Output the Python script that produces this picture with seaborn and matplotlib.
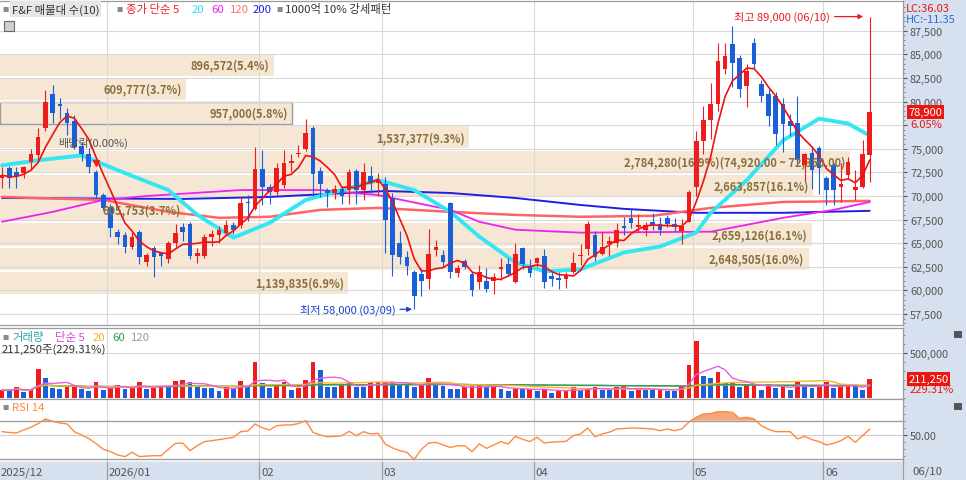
import matplotlib
matplotlib.use("Agg")
import matplotlib.pyplot as plt
from matplotlib.patches import Rectangle
import numpy as np
import pandas as pd
import seaborn as sns

sns.set_style("white")
plt.rcParams['font.family'] = ['Noto Sans CJK KR', 'DejaVu Sans']
plt.rcParams['axes.unicode_minus'] = False

# ---- daily candles (2025/12 ~ 2026/06/10) ----
opens = [71900, 72950, 72500, 72400, 73650, 74300, 77250, 80800, 79700, 78800,
         77950, 75250, 74500, 72500, 70100, 68850, 66200, 65900, 64550, 66200,
         63050, 64450, 64000, 63300, 65050, 66750, 67050, 63600, 63600, 65700,
         65900, 66100, 66950, 66950, 69350, 68650, 72850, 70950, 70400, 71150,
         73450, 74400, 74950, 77250, 72600, 70650, 70300, 70750, 70650, 72600,
         70650, 72100, 71350, 71300, 69800, 65050, 63500, 61900, 61700, 61200,
         64300, 63800, 69250, 61800, 63150, 61700, 60850, 60950, 60950, 62250,
         62850, 60850, 64450, 62550, 62950, 63600, 61500, 61250, 61200, 62000,
         63600, 64350, 65900, 63900, 64950, 65050, 66850, 67700, 66750, 66350,
         67250, 67050, 67700, 67050, 66250, 67300, 70950, 75850, 78000, 79750,
         83450, 86050, 84600, 81650, 86150, 81850, 80800, 80600, 79750, 77950,
         77750, 73300, 74600, 75050, 71900, 73250, 70950, 72200, 70650, 70950,
         74300]
highs = [73050, 73150, 73100, 73200, 74950, 77250, 81200, 81800, 80400, 79350,
         78600, 75700, 75100, 72750, 70300, 69200, 66550, 66200, 66200, 66400,
         64000, 64700, 64100, 65250, 67000, 67100, 67300, 64500, 66000, 66350,
         66800, 67500, 67300, 69850, 70100, 75150, 74900, 71250, 73450, 74900,
         74500, 75400, 78200, 77450, 73100, 70850, 71200, 71000, 72850, 72850,
         73450, 73150, 72450, 72000, 70300, 66300, 64200, 62200, 62400, 66500,
         65300, 64300, 69350, 62700, 63300, 61900, 62650, 62400, 61800, 63400,
         63400, 65000, 64600, 63300, 63500, 64400, 62000, 61900, 61900, 64050,
         64900, 67400, 66250, 66200, 65800, 67100, 67800, 68600, 68100, 67200,
         68150, 67800, 68000, 67650, 67600, 70600, 76900, 79500, 82000, 86200,
         86200, 87950, 84900, 84000, 86700, 82300, 81300, 81000, 80350, 78650,
         80550, 74600, 75150, 75250, 72100, 73450, 73450, 74100, 72750, 75950,
         89000]
lows = [70850, 70850, 70850, 71900, 72850, 73700, 76900, 77700, 78200, 76500,
        74950, 73700, 72400, 69800, 68500, 65700, 64950, 64000, 64350, 62850,
        62600, 61400, 62600, 62950, 64550, 65200, 63300, 62900, 63400, 64750,
        65050, 65750, 65950, 66600, 67400, 68500, 69000, 69200, 70150, 70850,
        72500, 74100, 74800, 70000, 69900, 68850, 69700, 69150, 69150, 69150,
        69550, 70300, 69950, 64000, 61500, 62850, 61600, 58000, 59400, 60200,
        63600, 62500, 61300, 61400, 62300, 59400, 60200, 59800, 59600, 61100,
        61500, 60750, 62300, 61400, 62500, 60250, 60500, 60200, 60300, 61850,
        62700, 63800, 63100, 63800, 63650, 64600, 65900, 66600, 66200, 65800,
        66400, 65900, 66700, 66300, 64950, 67250, 70000, 74500, 76000, 79000,
        82900, 81500, 80500, 79400, 83500, 80000, 77400, 75400, 74650, 76400,
        73450, 71500, 70700, 70200, 69050, 69050, 69350, 71750, 69550, 70900,
        71450]
closes = [72200, 71900, 72100, 73050, 74400, 76300, 79950, 78800, 79550, 77750,
          75150, 74500, 73050, 70100, 68750, 66650, 65700, 64550, 65700, 63500,
          63700, 63500, 63600, 65050, 66100, 66200, 63600, 64000, 65700, 66000,
          66450, 66950, 66450, 69250, 69250, 72850, 70950, 70400, 72950, 73450,
          73700, 74600, 76700, 72300, 71250, 70300, 70750, 70000, 72500, 70650,
          72500, 71450, 71700, 67500, 63800, 63500, 62550, 59400, 61050, 63900,
          64650, 63050, 61900, 62350, 62450, 60000, 61900, 60150, 61400, 62450,
          61700, 63900, 62750, 61800, 63400, 60850, 61200, 61150, 61500, 62950,
          63750, 67050, 63500, 64550, 65250, 66450, 66650, 67150, 66950, 66950,
          66950, 66450, 67050, 66750, 66850, 70400, 75850, 78000, 79750, 84300,
          84800, 84050, 81350, 83250, 83950, 80600, 78500, 76600, 77650, 77450,
          73800, 74400, 72750, 72950, 70650, 70650, 71250, 73550, 70950, 74400,
          78900]
volumes = [89000, 81000, 126000, 70000, 89000, 322000, 218000, 107000, 105000, 118000,
           148000, 100000, 81000, 174000, 92000, 107000, 148000, 100000, 118000, 174000,
           100000, 115000, 137000, 126000, 189000, 196000, 174000, 118000, 111000, 107000,
           81000, 118000, 107000, 192000, 118000, 403000, 163000, 111000, 144000, 174000,
           89000, 107000, 200000, 396000, 311000, 126000, 124000, 144000, 166000, 126000,
           118000, 174000, 176000, 178000, 174000, 155000, 152000, 118000, 144000, 222000,
           155000, 137000, 100000, 98000, 126000, 137000, 144000, 118000, 130000, 100000,
           81000, 107000, 100000, 104000, 81000, 100000, 56000, 81000, 83000, 118000,
           92000, 107000, 118000, 92000, 90000, 118000, 137000, 81000, 100000, 92000,
           90000, 100000, 81000, 80000, 137000, 370000, 636000, 248000, 222000, 292000,
           166000, 181000, 118000, 155000, 157000, 92000, 155000, 111000, 137000, 92000,
           174000, 137000, 107000, 137000, 174000, 107000, 118000, 155000, 130000, 92125,
           211250]
rsi14 = [54.6, 53.5, 52.8, 57, 60.7, 66, 72.4, 69, 66.8, 65.4,
         54.6, 50, 45, 38, 30, 26.7, 22, 19.7, 25.8, 19.7,
         20.5, 21, 21, 30, 38.3, 38.7, 28, 35, 40.7, 42,
         43.5, 45, 46.7, 54.6, 55.6, 65.4, 60, 57, 63, 64,
         64, 66, 70, 53.7, 50, 47.6, 48, 49, 55.1, 49,
         54.6, 51.4, 52.3, 37.4, 32, 28, 25.8, 15.5, 30, 38.7,
         39.7, 36, 32.6, 34.9, 34.9, 26.7, 37.4, 31.3, 36, 40.7,
         37.4, 48.1, 44, 40.7, 46.7, 38.7, 40, 40.5, 41.1, 49,
         51.4, 59.8, 47.6, 51.4, 54, 58.4, 59, 59.8, 59.5, 59,
         58.4, 56, 58.4, 56, 58.4, 68, 74.7, 79.4, 80, 82.6,
         82.5, 81.7, 73.3, 74.7, 72.4, 63, 58, 54.6, 54.6, 54.6,
         44.4, 48.1, 43.5, 40.7, 36, 38.3, 42, 48.1, 39.7, 49,
         58.4]

month_labels = ['2025/12', '2026/01', '02', '03', '04', '05', '06']
month_start = [0, 15, 36, 53, 74, 96, 114]

# longer moving averages at a few bars
ma20_idx = [0, 5, 11, 16, 23, 27, 32, 37, 42, 46, 51, 52, 57, 62, 66, 71, 75, 80, 86, 91, 96, 98, 103, 108, 113, 117, 120]
ma20_val = [73250, 73780, 74300, 72730, 70630, 68000, 65590, 67160, 69580, 70420, 71470, 71680, 70630, 68320,
            65700, 62970, 62020, 62230, 64020, 64650, 66120, 68220, 71680, 75880, 78190, 77670, 76400]
ma60_idx = [0, 7, 14, 20, 33, 44, 52, 62, 66, 71, 80, 98, 103, 108, 115, 120]
ma60_val = [67270, 68320, 69580, 70000, 70630, 70630, 70100, 68530, 67270, 66430, 66120, 66220, 66950, 67690, 68530, 69370]
ma120_idx = [0, 14, 23, 30, 37, 44, 52, 62, 71, 80, 90, 98, 108, 120]
ma120_val = [69900, 69580, 68320, 67690, 67800, 68530, 68740, 68320, 68000, 67800, 67900, 68740, 69370, 69480]
ma200_idx = [0, 25, 37, 53, 62, 71, 80, 86, 96, 108, 120]
ma200_val = [69790, 69690, 69900, 70530, 70320, 69790, 69050, 68640, 68220, 68220, 68430]

# volume-by-price bands (top to bottom)
band_top = [85200, 82630, 80060, 77490, 74920, 72350, 69780, 67210, 64640, 62070]
band_vol = [896572, 609777, 957000, 1537377, 2784280, 2663857, 605753, 2659126, 2648505, 1139835]
band_pct = [5.4, 3.7, 5.8, 9.3, 16.9, 16.1, 3.7, 16.1, 16.0, 6.9]
band_step = 2570

RED = '#EE1C1C'
BLUE = '#1A5ED8'
BEIGE = '#F5E7D4'
BROWN = '#8A6F3E'
PANEL = '#D6E0EE'
GRID = '#D9D9D9'
EDGE = '#9C9C9C'

n = len(closes)
idx = np.arange(n)
o, h, l, c = map(np.array, (opens, highs, lows, closes))
XLIM = (-0.28, 124.6)

fig = plt.figure(figsize=(9.66, 4.81), dpi=100)
W, H = 966, 481


def fx(x):
    return x / W


def fy(y):
    return 1 - y / H


fig.patches.append(Rectangle((fx(903), 0), fx(63), 1, transform=fig.transFigure,
                             facecolor=PANEL, edgecolor='none', zorder=-1))

ax = fig.add_axes([0, fy(326), fx(903), (326 - 2) / H])
ax_v = fig.add_axes([0, fy(400), fx(903), (400 - 329) / H])
ax_r = fig.add_axes([0, fy(463), fx(903), (463 - 400) / H])
ax_d = fig.add_axes([0, 0, fx(903), 18 / H])

for a in (ax, ax_v, ax_r):
    a.set_xlim(*XLIM)
    a.set_xticks([])
    a.set_facecolor('white')
    for s in a.spines.values():
        s.set_color(EDGE)
        s.set_linewidth(0.9)
    a.spines['left'].set_visible(False)
    a.yaxis.tick_right()
    a.tick_params(axis='y', which='major', direction='out', length=3, colors='#555555',
                  labelsize=7.8, pad=2, width=0.8)
    a.tick_params(axis='y', which='minor', direction='out', length=1.5, colors='#777777', width=0.6)
    for m in month_start[1:]:
        a.axvline(m - 0.45, color=GRID, lw=0.8, zorder=1.2)

# ---- main price panel ----
ax.set_ylim(56340, 90650)
ax.set_axisbelow('line')
yt = np.arange(57500, 90000, 2500)
ax.set_yticks(yt)
# the label next to the current price tag is hidden, as in the terminal
ax.set_yticklabels(['' if v == 77500 else f"{v:,}" for v in yt])
ax.set_yticks(np.arange(56500, 90500, 500), minor=True)
ax.grid(axis='y', which='major', color=GRID, lw=0.8)

span = XLIM[1] - XLIM[0]
band_scale = (850 / 903) * span / max(band_vol)
for k, (top, vol, pct) in enumerate(zip(band_top, band_vol, band_pct)):
    width = vol * band_scale
    boxed = k == 2
    ax.barh(top - band_step / 2, width, height=band_step - 230, left=XLIM[0],
            color=BEIGE, edgecolor=EDGE if boxed else 'none', linewidth=1.0 if boxed else 0, zorder=1)
    label = f"{vol:,}({pct}%)"
    if vol == max(band_vol):
        label += f"({top:,.2f} ~ {top - band_step:,.2f})"
    ax.text(XLIM[0] + width - 0.6, top - band_step / 2, label, ha='right', va='center',
            fontsize=8, fontweight='bold', color=BROWN, zorder=6)

# moving averages on price
sns.lineplot(x=ma200_idx, y=ma200_val, ax=ax, color='#1F1FE0', lw=1.4, zorder=3)
sns.lineplot(x=ma120_idx, y=ma120_val, ax=ax, color='#FF6464', lw=1.8, zorder=3)
sns.lineplot(x=ma60_idx, y=ma60_val, ax=ax, color='#F020F0', lw=1.3, zorder=3)
sns.lineplot(x=ma20_idx, y=ma20_val, ax=ax, color='#33E6F2', lw=2.8, zorder=3)

# candles
up = c >= o
col = np.where(up, RED, BLUE)
ax.vlines(idx, l, h, colors=col, lw=0.8, zorder=4)
body = np.maximum(np.abs(c - o), 120)
ax.bar(idx, body, bottom=np.minimum(o, c), width=0.64, color=col, linewidth=0, zorder=5)

ma5 = pd.Series(c).rolling(5, min_periods=1).mean()
sns.lineplot(x=idx, y=ma5.values, ax=ax, color='#F01010', lw=1.2, zorder=5.5)
ax.set_xlabel('')
ax.set_ylabel('')

# ex-dividend marker
ax.plot(13, 73500, marker='v', color=RED, ms=4, zorder=6)
ax.text(7.7, 75700, '배당락(0.00%)', fontsize=8, color='#555555', va='center', zorder=6)

# high / low annotations
hi_i = int(np.argmax(h))
lo_i = int(np.argmin(l))
ax.annotate(f"최고 {h[hi_i]:,} (06/10)", xy=(hi_i - 0.9, h[hi_i]), xytext=(-24, 0),
            textcoords='offset points', ha='right', va='center', fontsize=8, color=RED,
            arrowprops=dict(arrowstyle='-|>', color=RED, lw=0.9, mutation_scale=7,
                            shrinkA=1, shrinkB=0), zorder=7)
ax.annotate(f"최저 {l[lo_i]:,} (03/09)", xy=(lo_i - 0.3, l[lo_i]), xytext=(-12, 0),
            textcoords='offset points', ha='right', va='center', fontsize=8, color='#1E3FD0',
            arrowprops=dict(arrowstyle='-|>', color='#1E3FD0', lw=0.9, mutation_scale=7,
                            shrinkA=1, shrinkB=0), zorder=7)

# current price tag
chg = (c[-1] / c[-2] - 1) * 100
ax.annotate(f"{c[-1]:,}", xy=(1.0, c[-1]), xycoords=('axes fraction', 'data'),
            xytext=(4, 0), textcoords='offset points', ha='left', va='center', fontsize=8,
            color='white', bbox=dict(boxstyle='square,pad=0.15', facecolor='#E8170F',
                                     edgecolor='none'), annotation_clip=False)
ax.annotate(f"{chg:.2f}%", xy=(1.0, c[-1] - 1300), xycoords=('axes fraction', 'data'),
            xytext=(5, 0), textcoords='offset points', ha='left', va='center', fontsize=8,
            color='#E8170F', annotation_clip=False)

# ---- volume panel ----
ax_v.set_ylim(-11000, 778000)
ax_v.set_axisbelow('line')
ax_v.set_yticks([500000])
ax_v.set_yticklabels(['500,000'])
ax_v.set_yticks(np.arange(0, 780000, 100000), minor=True)
ax_v.grid(axis='y', which='major', color=GRID, lw=0.8)
vol = np.array(volumes, dtype=float)
vcol = [RED] + [RED if vol[i] > vol[i - 1] else BLUE for i in range(1, n)]
ax_v.bar(idx, vol, width=0.66, color=vcol, linewidth=0, zorder=3)
vs = pd.Series(vol)
sns.lineplot(x=idx, y=vs.rolling(120, min_periods=1).mean().values, ax=ax_v, color='#A8A8A8', lw=1.0, zorder=4)
sns.lineplot(x=idx, y=vs.rolling(60, min_periods=1).mean().values, ax=ax_v, color='#2E9E4E', lw=1.0, zorder=4)
sns.lineplot(x=idx, y=vs.rolling(20, min_periods=1).mean().values, ax=ax_v, color='#F2B824', lw=1.0, zorder=4)
sns.lineplot(x=idx, y=vs.rolling(5, min_periods=1).mean().values, ax=ax_v, color='#E860E0', lw=1.0, zorder=4)
ax_v.set_xlabel('')
ax_v.set_ylabel('')
ratio = vol[-1] / vol[-2] * 100
ax_v.annotate(f"{int(vol[-1]):,}", xy=(1.0, vol[-1]), xycoords=('axes fraction', 'data'),
              xytext=(4, 0), textcoords='offset points', ha='left', va='center', fontsize=8,
              color='white', bbox=dict(boxstyle='square,pad=0.15', facecolor='#E8170F',
                                       edgecolor='none'), annotation_clip=False)
ax_v.annotate(f"{ratio:.2f}%", xy=(1.0, vol[-1] - 110000), xycoords=('axes fraction', 'data'),
              xytext=(5, 0), textcoords='offset points', ha='left', va='center', fontsize=8,
              color='#E8170F', annotation_clip=False)

# ---- RSI panel ----
ax_r.set_ylim(12.2, 100.3)
ax_r.set_yticks([50])
ax_r.set_yticklabels(['50.00'])
ax_r.set_yticks(np.arange(20, 100, 10), minor=True)
ax_r.axhline(70, color='#A0A0A0', lw=1.0, zorder=2)
ax_r.axhline(50, color='#D0D0D0', lw=0.9, zorder=2)
ax_r.axhline(16.5, color='#A0A0A0', lw=1.0, zorder=2)
rsi = np.array(rsi14)
ax_r.fill_between(idx, 70, rsi, where=rsi >= 70, interpolate=True, color='#F2A878', lw=0, zorder=2.5)
sns.lineplot(x=idx, y=rsi, ax=ax_r, color='#FF8A3D', lw=1.0, zorder=3)
ax_r.set_xlabel('')
ax_r.set_ylabel('')

# ---- date strip ----
ax_d.set_xlim(*XLIM)
ax_d.set_ylim(0, 1)
ax_d.set_facecolor(PANEL)
ax_d.set_xticks([])
ax_d.set_yticks([])
for s in ax_d.spines.values():
    s.set_visible(False)
ax_d.spines['right'].set_visible(True)
ax_d.spines['right'].set_color(EDGE)
for m, lab in zip(month_start, month_labels):
    if m > 0:
        ax_d.axvline(m - 0.45, color=EDGE, lw=0.9)
    ax_d.text(max(m - 0.2, XLIM[0] + 0.05), 0.45, lab, fontsize=8.2, color='#555555',
              ha='left', va='center')
fig.text(fx(912), fy(472), '06/10', fontsize=8.2, color='#555555', ha='left', va='center')

# ---- legends / headers ----
fig.text(fx(906), fy(9), 'LC:36.03', fontsize=8, color='#E8170F', va='center')
fig.text(fx(906), fy(20), 'HC:-11.35', fontsize=8, color='#2D6FD8', va='center')

SQ = dict(fontsize=4.5, color='#8A8A8A', va='center')
fig.text(fx(2), fy(10), '■', **SQ)
fig.text(fx(12), fy(10), 'F&F 매물대 수(10)', fontsize=8.2, color='#333333', va='center',
         bbox=dict(boxstyle='square,pad=0.15', facecolor='#E6E6E6', edgecolor='none'))
fig.text(fx(116), fy(10), '■', **SQ)
fig.text(fx(126), fy(10), '종가 단순 5', fontsize=8.2, color='#F02020', va='center')
fig.text(fx(192), fy(10), '20', fontsize=8.2, color='#30DDEE', va='center')
fig.text(fx(211), fy(10), '60', fontsize=8.2, color='#F020F0', va='center')
fig.text(fx(230), fy(10), '120', fontsize=8.2, color='#FF7070', va='center')
fig.text(fx(253), fy(10), '200', fontsize=8.2, color='#2020E0', va='center')
fig.text(fx(276), fy(10), '■', **SQ)
fig.text(fx(285), fy(10), '1000억 10% 강세패턴', fontsize=8.2, color='#333333', va='center')
fig.patches.append(Rectangle((fx(4), fy(32)), fx(10), 10 / H, transform=fig.transFigure,
                             facecolor='#CFCFCF', edgecolor='#6A6A6A', lw=0.8, zorder=5))

fig.text(fx(2), fy(338), '■', **SQ)
fig.text(fx(12), fy(338), '거래량', fontsize=8.2, color='#2FA0A8', va='center')
fig.text(fx(55), fy(338), '단순 5', fontsize=8.2, color='#E040D8', va='center')
fig.text(fx(93), fy(338), '20', fontsize=8.2, color='#F2B824', va='center')
fig.text(fx(112), fy(338), '60', fontsize=8.2, color='#2E9E4E', va='center')
fig.text(fx(131), fy(338), '120', fontsize=8.2, color='#9A9A9A', va='center')
fig.text(fx(2), fy(350), f"{int(vol[-1]):,}주({ratio:.2f}%)", fontsize=8.2, color='#333333', va='center')

fig.text(fx(2), fy(408), '■', **SQ)
fig.text(fx(12), fy(408), 'RSI 14', fontsize=8.2, color='#FF8A3D', va='center')

for yy in (335, 407):
    fig.patches.append(Rectangle((fx(954), fy(yy + 4)), fx(8), 7 / H, transform=fig.transFigure,
                                 facecolor='#555555', edgecolor='none', zorder=5))

fig.savefig('out.png', dpi=100, facecolor='white')
